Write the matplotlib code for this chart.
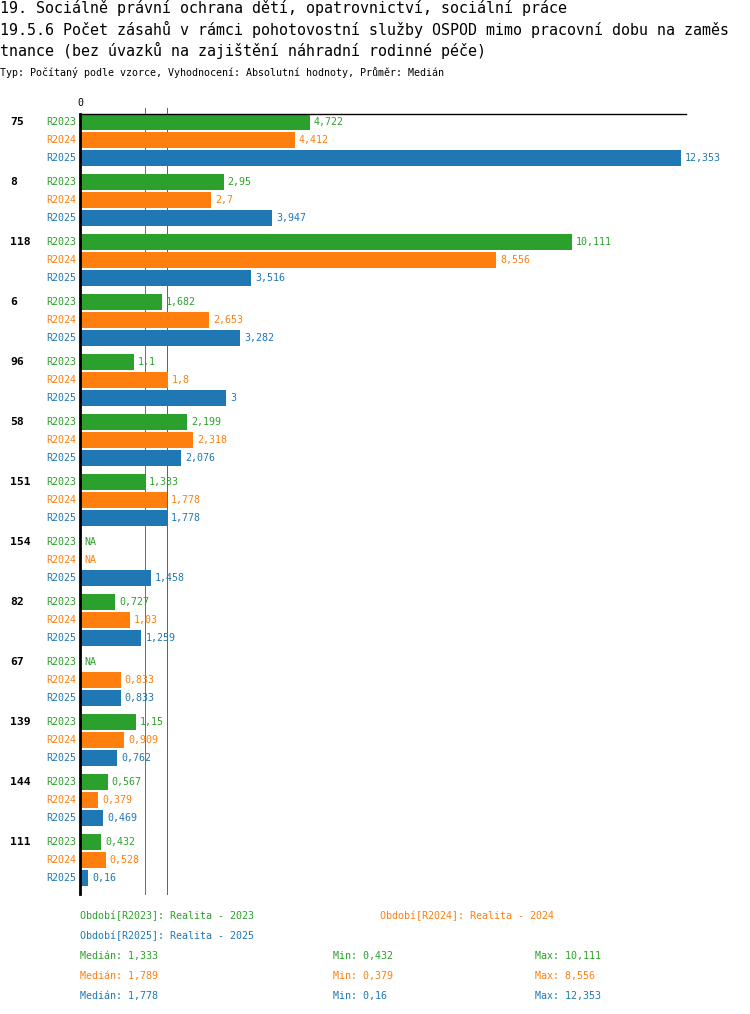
import numpy as np
import matplotlib.pyplot as plt

output_path = "out.png"

groups = ["75", "8", "118", "6", "96", "58", "151", "154", "82", "67", "139", "144", "111"]
series_names = ["R2023", "R2024", "R2025"]
series_titles = ["Realita - 2023", "Realita - 2024", "Realita - 2025"]
nan = np.nan
r2023 = [4.722, 2.95, 10.111, 1.682, 1.1, 2.199, 1.333, nan, 0.727, nan, 1.15, 0.567, 0.432]
r2024 = [4.412, 2.7, 8.556, 2.653, 1.8, 2.318, 1.778, nan, 1.03, 0.833, 0.909, 0.379, 0.528]
r2025 = [12.353, 3.947, 3.516, 3.282, 3, 2.076, 1.778, 1.458, 1.259, 0.833, 0.762, 0.469, 0.16]

title_lines = [
    "19. Sociálně právní ochrana dětí, opatrovnictví, sociální práce",
    "19.5.6 Počet zásahů v rámci pohotovostní služby OSPOD mimo pracovní dobu na zaměs",
    "tnance (bez úvazků na zajištění náhradní rodinné péče)",
]
subtitle = "Typ: Počítaný podle vzorce, Vyhodnocení: Absolutní hodnoty, Průměr: Medián"

colors = ["#2ca02c", "#ff7f0e", "#1f77b4"]

W, H = 750, 1014
plt.rcParams['font.family'] = ['DejaVu Sans Mono', 'DejaVu Sans']


def px(x, y):
    return x / W, 1 - y / H


def fmt(v):
    return f"{round(v, 3):g}".replace(".", ",")


fig = plt.figure(figsize=(W / 100, H / 100), dpi=100)

# title block
for i, line in enumerate(title_lines):
    fig.text(*px(0, 8 + 21 * i), line, fontsize=10.8, va="center", ha="left")
fig.text(*px(0, 73), subtitle, fontsize=7.2, va="center", ha="left")

left, right, top, bottom = 80, 686, 114, 894
ax = fig.add_axes([left / W, 1 - bottom / H, (right - left) / W, (bottom - top) / H])

row_px = 18
group_rows = 60 / row_px
data = [r2023, r2024, r2025]
xmax = 12.353 * (right - left) / (681 - left)
ax.set_xlim(0, xmax)
ax.set_ylim((bottom - 122) / row_px, -(122 - top) / row_px)

for s, vals in enumerate(data):
    ypos = np.arange(len(groups)) * group_rows + s
    v = np.array(vals, dtype=float)
    ax.barh(ypos, np.nan_to_num(v), height=16 / row_px, color=colors[s], zorder=2)
    for y, val in zip(ypos, v):
        label = "NA" if np.isnan(val) else fmt(val)
        xv = 0 if np.isnan(val) else val
        ax.annotate(label, (xv, y), xytext=(3, 0), textcoords="offset points",
                    color=colors[s], fontsize=7.2, va="center", ha="left", zorder=4)
        ax.annotate(series_names[s], (0, y), xytext=(-2.5, 0), textcoords="offset points",
                    color=colors[s], fontsize=7.2, va="center", ha="right",
                    annotation_clip=False)

for g, name in enumerate(groups):
    ax.text(-70 / 48.65, g * group_rows, name, fontsize=8.2, fontweight="bold",
            va="center", ha="left", clip_on=False)

# median lines behind the bars (orange first, blue drawn on top)
for s in [1, 0, 2]:
    med = np.nanmedian(np.array(data[s], dtype=float))
    ax.axvline(med, ymin=0, ymax=1 + 6 / (bottom - top), color=colors[s],
               linewidth=0.72, snap=True, clip_on=False, zorder=1)

for sp in ["right", "bottom"]:
    ax.spines[sp].set_visible(False)
ax.spines["left"].set_linewidth(2)
ax.spines["left"].set_zorder(3)
ax.spines["top"].set_linewidth(1)
ax.set_xticks([])
ax.set_yticks([])
ax.text(0, -(122 - 103) / row_px, "0", fontsize=7.2, ha="center", va="center", clip_on=False)

# legend block
fig.text(*px(80, 916), f"Období[{series_names[0]}]: {series_titles[0]}", color=colors[0],
         fontsize=7.2, va="center")
fig.text(*px(380, 916), f"Období[{series_names[1]}]: {series_titles[1]}", color=colors[1],
         fontsize=7.2, va="center")
fig.text(*px(80, 936), f"Období[{series_names[2]}]: {series_titles[2]}", color=colors[2],
         fontsize=7.2, va="center")
for s, vals in enumerate(data):
    v = np.array(vals, dtype=float)
    y = 956 + 20 * s
    fig.text(*px(80, y), f"Medián: {fmt(np.nanmedian(v))}", color=colors[s], fontsize=7.2, va="center")
    fig.text(*px(333, y), f"Min: {fmt(np.nanmin(v))}", color=colors[s], fontsize=7.2, va="center")
    fig.text(*px(535, y), f"Max: {fmt(np.nanmax(v))}", color=colors[s], fontsize=7.2, va="center")

fig.savefig(output_path, dpi=100)
